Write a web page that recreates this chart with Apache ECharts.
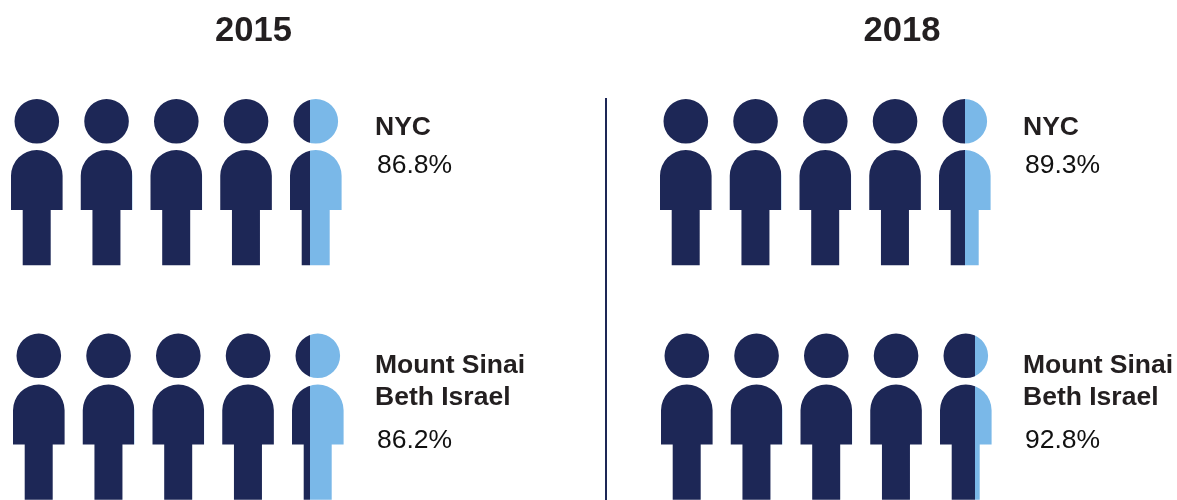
<!DOCTYPE html>
<html>
<head>
<meta charset="utf-8">
<style>
  html, body { margin: 0; padding: 0; background: #fff; }
  #main { width: 1177px; height: 500px; }
</style>
<script src="https://cdn.jsdelivr.net/npm/echarts@6/dist/echarts.min.js"></script>
</head>
<body>
<div id="main"></div>
<script>
// values
const years = ['2015', '2018']
const hospitals = ['NYC', 'Mount Sinai\nBeth Israel']
const shareLabels = [['86.8%', '89.3%'], ['86.2%', '92.8%']]
// how many of the 5 figures are dark, split position read per panel
const darkPeople = [[4.385, 4.5], [4.35, 4.68]]
const peopleSlots = [0, 1, 2, 3, 4]

const DARK = '#1d2756'
const LIGHT = '#7ab8e8'
const TEXT = '#231f20'
const FONT = 'Liberation Sans'

// one figure, head and body, in a 51.6 x 166.3 box
const PERSON = 'M25.8 0A22.3 22.3 0 1 1 25.8 44.6A22.3 22.3 0 1 1 25.8 0Z' +
  'M0 76.8A25.8 25.8 0 0 1 51.6 76.8L51.6 111L39.7 111L39.7 166.3L11.7 166.3L11.7 111L0 111Z'

const panelLeft = [[11, 660], [13, 661]]
const rowTop = [99, 333.5]
const titleCenter = [253.5, 902]
const nameLeft = [375, 1023]
const nameMiddle = [128, 382]
const shareMiddle = [166, 441]

function renderPerson (params, api) {
  let slot = api.value(0)
  let fill = api.value(1)
  let start = api.coord([slot, 1])
  let width = api.size([1, 1])[0] * (51.6 / 69.75)
  return {
    type: 'path',
    shape: {
      pathData: PERSON,
      layout: 'cover',
      x: start[0],
      y: start[1],
      width: width,
      height: api.size([1, 1])[1]
    },
    style: {
      fill: {
        type: 'linear', x: 0, y: 0, x2: 1, y2: 0,
        colorStops: [
          { offset: 0, color: DARK },
          { offset: fill, color: DARK },
          { offset: fill, color: LIGHT },
          { offset: 1, color: LIGHT }
        ]
      }
    }
  }
}

function textItem (text, x, y, size, weight, color, align) {
  return {
    type: 'text',
    style: {
      text: text,
      x: x,
      y: y,
      fontFamily: FONT,
      fontSize: size,
      fontWeight: weight,
      fill: color,
      lineHeight: 32,
      textAlign: align,
      textVerticalAlign: 'middle'
    }
  }
}

let grids = []
let xAxes = []
let yAxes = []
let series = []
let texts = []

years.forEach((year, col) => {
  texts.push(textItem(year, titleCenter[col], 31, 34.6, 'bold', TEXT, 'center'))
})

hospitals.forEach((name, row) => {
  years.forEach((year, col) => {
    let index = grids.length
    grids.push({ left: panelLeft[row][col], top: rowTop[row], width: 69.75 * 5, height: 166.3 })
    xAxes.push({ gridIndex: index, type: 'value', min: 0, max: 5, show: false })
    yAxes.push({ gridIndex: index, type: 'value', min: 0, max: 1, show: false })
    series.push({
      type: 'custom',
      xAxisIndex: index,
      yAxisIndex: index,
      clip: false,
      silent: true,
      renderItem: renderPerson,
      data: peopleSlots.map(i => [i, Math.min(1, Math.max(0, darkPeople[row][col] - i))])
    })
    texts.push(textItem(name, nameLeft[col], nameMiddle[row], 26.5, 'bold', TEXT, 'left'))
    texts.push(textItem(shareLabels[row][col], nameLeft[col] + 2, shareMiddle[row], 26.5, 'normal', '#111', 'left'))
  })
})

let myChart = echarts.init(document.getElementById('main'))
myChart.setOption({
  animation: false,
  grid: grids,
  xAxis: xAxes,
  yAxis: yAxes,
  series: series,
  graphic: texts.concat([{
    type: 'line',
    shape: { x1: 606, y1: 98, x2: 606, y2: 500 },
    style: { stroke: DARK, lineWidth: 2 }
  }])
})
</script>
</body>
</html>
